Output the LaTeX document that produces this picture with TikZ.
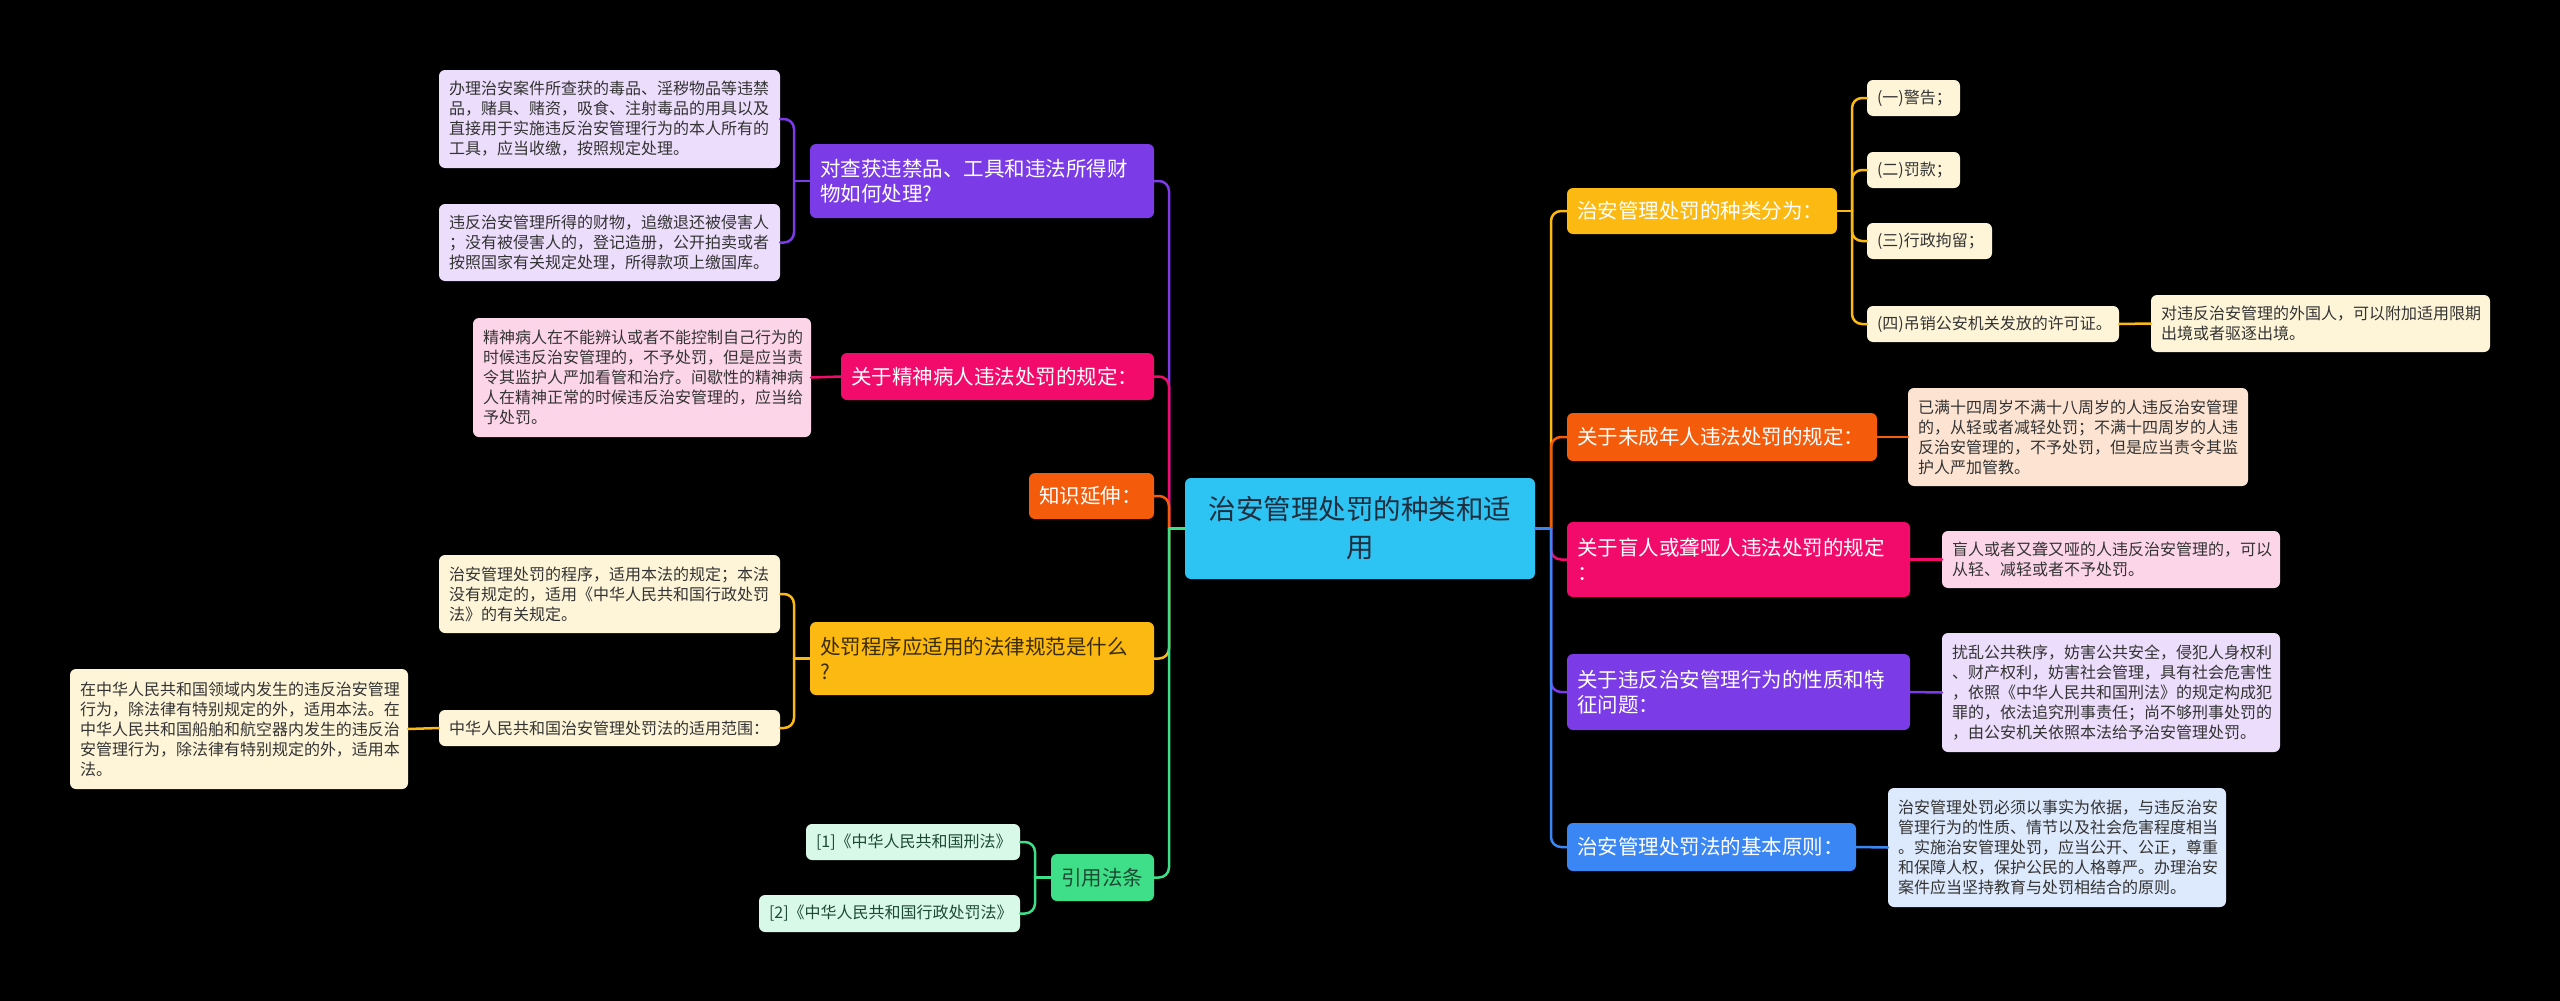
\documentclass[tikz,border=0pt]{standalone}
\usepackage{fontspec}
\setmainfont{Noto Sans CJK SC}
\usetikzlibrary{calc}
\definecolor{rootc}{HTML}{2DC4F4}
\definecolor{purc}{HTML}{7B3BE6}
\definecolor{purL}{HTML}{EBDDFB}
\definecolor{pinkc}{HTML}{F20B6B}
\definecolor{pinkL}{HTML}{FDD5E8}
\definecolor{orac}{HTML}{F45B0A}
\definecolor{oraL}{HTML}{FDE4D2}
\definecolor{yelc}{HTML}{FBB912}
\definecolor{yelL}{HTML}{FEF5D8}
\definecolor{grnc}{HTML}{3EDF88}
\definecolor{grnL}{HTML}{D9F9E8}
\definecolor{bluc}{HTML}{3A86F4}
\definecolor{bluL}{HTML}{DDE9FC}
\definecolor{txt}{HTML}{333333}
\definecolor{rtxt}{HTML}{1F2D3D}
\definecolor{ytxt}{HTML}{3A2C05}
\definecolor{gtxt}{HTML}{1D4A33}
\tikzset{
  box/.style={rounded corners=6pt, inner xsep=10pt, inner ysep=0pt, align=left, anchor=north west, outer sep=0pt},
  leaf/.style={box, font=\fontsize{16pt}{20pt}\selectfont, text=txt},
  br/.style={box, font=\fontsize{20.5pt}{25pt}\selectfont, text=white},
  link/.style={line width=2.5pt, rounded corners=10pt, line cap=round},
}
\begin{document}
\begin{tikzpicture}[x=1pt,y=-1pt]
\fill[black] (0,0) rectangle (2560,1001);
\useasboundingbox (0,0) rectangle (2560,1001);

% root
\node[box, fill=rootc, text=rtxt, align=center, text width=330pt, minimum height=101pt,
  font=\fontsize{27.5pt}{38pt}\selectfont] (root) at (1185,478) {治安管理处罚的种类和适\\用};

% ---------- left side ----------
\node[br, fill=purc, text width=324pt, minimum height=74pt] (b1) at (810,144) {对查获违禁品、工具和违法所得财\\物如何处理?};
\node[leaf, fill=purL, text width=321pt, minimum height=98pt] (l1a) at (439,70) {办理治安案件所查获的毒品、淫秽物品等违禁\\品，赌具、赌资，吸食、注射毒品的用具以及\\直接用于实施违反治安管理行为的本人所有的\\工具，应当收缴，按照规定处理。};
\node[leaf, fill=purL, text width=321pt, minimum height=77pt] (l1b) at (439,204) {违反治安管理所得的财物，追缴退还被侵害人\\；没有被侵害人的，登记造册，公开拍卖或者\\按照国家有关规定处理，所得款项上缴国库。};

\node[br, fill=pinkc, text width=293pt, minimum height=47pt] (b2) at (841,353) {关于精神病人违法处罚的规定：};
\node[leaf, fill=pinkL, text width=318pt, minimum height=119pt] (l2) at (473,318) {精神病人在不能辨认或者不能控制自己行为的\\时候违反治安管理的，不予处罚，但是应当责\\令其监护人严加看管和治疗。间歇性的精神病\\人在精神正常的时候违反治安管理的，应当给\\予处罚。};

\node[br, fill=orac, text width=105pt, minimum height=46pt] (b3) at (1029,473) {知识延伸：};

\node[br, fill=yelc, text=ytxt, text width=324pt, minimum height=73pt] (b4) at (810,622) {处罚程序应适用的法律规范是什么\\?};
\node[leaf, fill=yelL, text width=321pt, minimum height=78pt] (l4a) at (439,555) {治安管理处罚的程序，适用本法的规定；本法\\没有规定的，适用《中华人民共和国行政处罚\\法》的有关规定。};
\node[leaf, fill=yelL, text width=321pt, minimum height=36pt] (l4b) at (439,710) {中华人民共和国治安管理处罚法的适用范围：};
\node[leaf, fill=yelL, text width=318pt, minimum height=120pt] (l4c) at (70,669) {在中华人民共和国领域内发生的违反治安管理\\行为，除法律有特别规定的外，适用本法。在\\中华人民共和国船舶和航空器内发生的违反治\\安管理行为，除法律有特别规定的外，适用本\\法。};

\node[br, fill=grnc, text=gtxt, text width=83pt, minimum height=47pt] (b5) at (1051,854) {引用法条};
\node[leaf, fill=grnL, text=gtxt, text width=194pt, minimum height=36pt] (l5a) at (806,824) {[1]《中华人民共和国刑法》};
\node[leaf, fill=grnL, text=gtxt, text width=241pt, minimum height=37pt] (l5b) at (759,895) {[2]《中华人民共和国行政处罚法》};

% ---------- right side ----------
\node[br, fill=yelc, text width=250pt, minimum height=46pt] (r1) at (1567,188) {治安管理处罚的种类分为：};
\node[leaf, fill=yelL, text width=73pt, minimum height=36pt] (r1a) at (1867,80) {(一)警告；};
\node[leaf, fill=yelL, text width=73pt, minimum height=36pt] (r1b) at (1867,152) {(二)罚款；};
\node[leaf, fill=yelL, text width=105pt, minimum height=36pt] (r1c) at (1867,223) {(三)行政拘留；};
\node[leaf, fill=yelL, text width=232pt, minimum height=36pt] (r1d) at (1867,306) {(四)吊销公安机关发放的许可证。};
\node[leaf, fill=yelL, text width=319pt, minimum height=57pt] (r1e) at (2151,295) {对违反治安管理的外国人，可以附加适用限期\\出境或者驱逐出境。};

\node[br, fill=orac, text width=290pt, minimum height=48pt] (r2) at (1567,413) {关于未成年人违法处罚的规定：};
\node[leaf, fill=oraL, text width=320pt, minimum height=98pt] (r2a) at (1908,388) {已满十四周岁不满十八周岁的人违反治安管理\\的，从轻或者减轻处罚；不满十四周岁的人违\\反治安管理的，不予处罚，但是应当责令其监\\护人严加管教。};

\node[br, fill=pinkc, text width=323pt, minimum height=75pt] (r3) at (1567,522) {关于盲人或聋哑人违法处罚的规定\\：};
\node[leaf, fill=pinkL, text width=318pt, minimum height=57pt] (r3a) at (1942,531) {盲人或者又聋又哑的人违反治安管理的，可以\\从轻、减轻或者不予处罚。};

\node[br, fill=purc, text width=323pt, minimum height=76pt] (r4) at (1567,654) {关于违反治安管理行为的性质和特\\征问题：};
\node[leaf, fill=purL, text width=318pt, minimum height=119pt] (r4a) at (1942,633) {扰乱公共秩序，妨害公共安全，侵犯人身权利\\、财产权利，妨害社会管理，具有社会危害性\\，依照《中华人民共和国刑法》的规定构成犯\\罪的，依法追究刑事责任；尚不够刑事处罚的\\，由公安机关依照本法给予治安管理处罚。};

\node[br, fill=bluc, text width=269pt, minimum height=48pt] (r5) at (1567,823) {治安管理处罚法的基本原则：};
\node[leaf, fill=bluL, text width=318pt, minimum height=119pt] (r5a) at (1888,788) {治安管理处罚必须以事实为依据，与违反治安\\管理行为的性质、情节以及社会危害程度相当\\。实施治安管理处罚，应当公开、公正，尊重\\和保障人权，保护公民的人格尊严。办理治安\\案件应当坚持教育与处罚相结合的原则。};

% ---------- junctions ----------
\coordinate (jl) at ([xshift=-16pt]root.west);
\coordinate (jr) at ([xshift=16pt]root.east);
\coordinate (j1) at ([xshift=-16pt]b1.west);
\coordinate (j4) at ([xshift=-16pt]b4.west);
\coordinate (j5) at ([xshift=-16pt]b5.west);
\coordinate (jr1) at ([xshift=15pt]r1.east);

% ---------- connectors: left ----------
\draw[link, purc] (jl) |- (b1.east);
\draw[link, pinkc] (jl) |- (b2.east);
\draw[link, orac] (jl) |- (b3.east);
\draw[link, yelc] (jl) |- (b4.east);
\draw[link, grnc] (jl) |- (b5.east);
\draw[link, grnc] (root.west) -- (jl);

\draw[link, purc] (b1.west) -- (j1);
\draw[link, purc] (j1) |- (l1a.east);
\draw[link, purc] (j1) |- (l1b.east);
\draw[link, pinkc] (b2.west) -- (l2.east);
\draw[link, yelc] (b4.west) -- (j4);
\draw[link, yelc] (j4) |- (l4a.east);
\draw[link, yelc] (j4) |- (l4b.east);
\draw[link, yelc] (l4b.west) -- (l4c.east);
\draw[link, grnc] (b5.west) -- (j5);
\draw[link, grnc] (j5) |- (l5a.east);
\draw[link, grnc] (j5) |- (l5b.east);

% ---------- connectors: right ----------
\draw[link, yelc] (jr) |- (r1.west);
\draw[link, orac] (jr) |- (r2.west);
\draw[link, pinkc] (jr) |- (r3.west);
\draw[link, purc] (jr) |- (r4.west);
\draw[link, bluc] (jr) |- (r5.west);
\draw[link, bluc] (root.east) -- (jr);

\draw[link, yelc] (r1.east) -- (jr1);
\draw[link, yelc] (jr1) |- (r1a.west);
\draw[link, yelc] (jr1) |- (r1b.west);
\draw[link, yelc] (jr1) |- (r1c.west);
\draw[link, yelc] (jr1) |- (r1d.west);
\draw[link, yelc] (r1d.east) -- (r1e.west);
\draw[link, orac] (r2.east) -- (r2a.west);
\draw[link, pinkc] (r3.east) -- (r3a.west);
\draw[link, purc] (r4.east) -- (r4a.west);
\draw[link, bluc] (r5.east) -- (r5a.west);
\end{tikzpicture}
\end{document}
